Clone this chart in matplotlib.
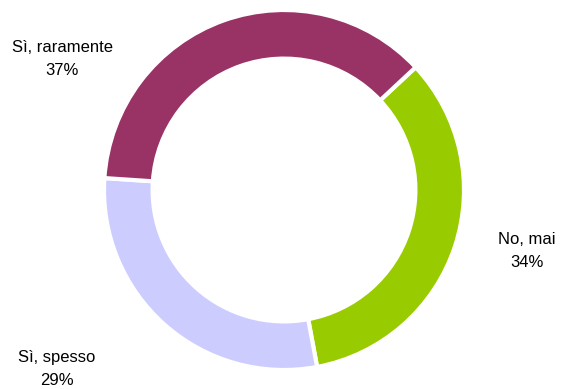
import matplotlib.pyplot as plt

# Risposte alla domanda (percentuali)
categorie = ["No, mai", "Sì, spesso", "Sì, raramente"]
valori = [34, 29, 37]
colori = ["#99CC00", "#CCCCFF", "#993366"]

# posizioni delle etichette in pixel (x, y dall'alto)
pos_etichette = [(527, 251), (57, 369), (62, 59)]

W, H = 564, 389
fig = plt.figure(figsize=(W / 100, H / 100), dpi=100)
plt.rcParams['font.family'] = ['Liberation Sans', 'DejaVu Sans']

# anello centrato in (284, 190) px, raggio 180 px
cx, cy, r = 284, 190, 180
ax = fig.add_axes([(cx - r) / W, (H - cy - r) / H, 2 * r / W, 2 * r / H])
ax.pie(valori, colors=colori, startangle=43, counterclock=False,
       radius=1.0, wedgeprops=dict(width=0.27, edgecolor='white', linewidth=3))
ax.set_xlim(-1, 1)
ax.set_ylim(-1, 1)
ax.set_aspect('equal')
ax.axis('off')

totale = sum(valori)
for cat, v, (px, py) in zip(categorie, valori, pos_etichette):
    fig.text(px / W, 1 - py / H, f"{cat}\n{round(100 * v / totale)}%",
             ha='center', va='center', fontsize=12, linespacing=1.65)

fig.savefig("out.png", dpi=100)
